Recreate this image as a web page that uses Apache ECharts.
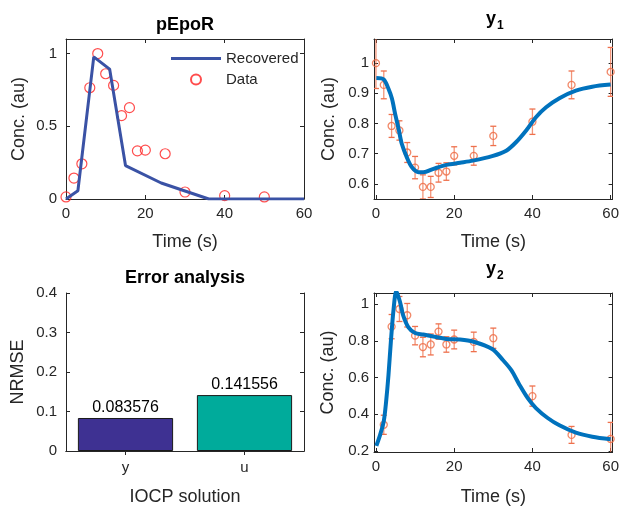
<!DOCTYPE html>
<html>
<head>
<meta charset="utf-8">
<script src="https://cdn.jsdelivr.net/npm/echarts@6.0.0/dist/echarts.min.js"></script>
<style>
  html, body { margin: 0; padding: 0; background: #fff; }
  #main { width: 622px; height: 507px; }
</style>
</head>
<body>
<div id="main"></div>
<script>
// pEpoR panel
var pepoTime = [0, 2, 4, 6, 8, 10, 12, 14, 16, 18, 20, 25, 30, 40, 50];
var pepoData = [0.014, 0.144, 0.242, 0.765, 1.0, 0.861, 0.781, 0.573, 0.628, 0.331, 0.336, 0.311, 0.048, 0.023, 0.014];
var recTime = [0, 3, 7, 11, 15, 24, 36, 60];
var recValue = [0, 0.057, 0.977, 0.893, 0.23, 0.11, 0, 0];

// measurement times for y1 / y2
var dataTime1 = [0, 2, 4, 6, 8, 10, 12, 14, 16, 18, 20, 25, 30, 40, 50, 60];
var y1Data = [1.0, 0.928, 0.792, 0.777, 0.704, 0.654, 0.59, 0.59, 0.637, 0.641, 0.693, 0.693, 0.759, 0.806, 0.928, 0.971];
var y1Err = [0.084, 0.046, 0.038, 0.032, 0.033, 0.037, 0.04, 0.035, 0.031, 0.029, 0.03, 0.031, 0.032, 0.042, 0.046, 0.081];

var dataTime2 = [2, 4, 6, 8, 10, 12, 14, 16, 18, 20, 25, 30, 40, 50, 60];
var y2Data = [0.343, 0.877, 0.973, 0.939, 0.828, 0.766, 0.78, 0.85, 0.78, 0.807, 0.794, 0.814, 0.499, 0.288, 0.266];
var y2Err = [0.052, 0.066, 0.068, 0.064, 0.05, 0.053, 0.057, 0.042, 0.042, 0.051, 0.053, 0.055, 0.055, 0.046, 0.09];

// model curves
var fit1Time = [0.1, 2, 3.2, 4.1, 4.9, 5.8, 6.6, 7.9, 9.2, 10.9, 12.1, 14.7, 18, 21.5, 24.8, 29.7, 33.3, 35.8, 38.4, 40.9, 43.5, 46.9, 51.1, 55.3, 60];
var fit1Value = [0.951, 0.946, 0.915, 0.882, 0.832, 0.782, 0.733, 0.688, 0.655, 0.639, 0.639, 0.65, 0.663, 0.67, 0.677, 0.692, 0.71, 0.738, 0.777, 0.821, 0.854, 0.884, 0.909, 0.922, 0.929];

var fit2Time = [0.1, 1.1, 2, 2.6, 3.2, 3.8, 4.5, 5.2, 6.2, 7, 8.3, 10, 12.1, 14.7, 18, 21.5, 24.8, 29.7, 32.5, 34.6, 36.7, 38.8, 40.9, 43.9, 46.9, 51.1, 55.3, 60];
var fit2Value = [0.228, 0.291, 0.363, 0.47, 0.613, 0.792, 0.971, 1.07, 1.007, 0.935, 0.873, 0.842, 0.834, 0.823, 0.81, 0.807, 0.796, 0.755, 0.694, 0.64, 0.56, 0.488, 0.434, 0.38, 0.34, 0.3, 0.278, 0.264];

// error analysis
var errCategories = ['y', 'u'];
var errValues = [0.083576, 0.141556];
var errColors = ['#3E3192', '#00AB9B'];

var timeTicks = [0, 20, 40, 60];
var pepoTicks = [0, 0.5, 1];
var y1Ticks = [0.6, 0.7, 0.8, 0.9, 1];
var y2Ticks = [0.2, 0.4, 0.6, 0.8, 1];
var errTicks = [0, 0.1, 0.2, 0.3, 0.4];

var ink = '#262626';
var font = 'Liberation Sans, Arial, sans-serif';

function zip(a, b) {
    var out = [];
    for (var i = 0; i < a.length; i++) out.push([a[i], b[i]]);
    return out;
}
function errRows(t, v, e) {
    var out = [];
    for (var i = 0; i < t.length; i++) out.push([t[i], v[i] - e[i], v[i] + e[i]]);
    return out;
}

function valueAxis(grid, pos, min, max, ticks, name, gap, margin) {
    var main = (pos == 'bottom' || pos == 'left');
    return {
        type: 'value', gridIndex: grid, position: pos, min: min, max: max,
        name: main ? name : '', nameLocation: 'middle', nameGap: gap,
        nameTextStyle: { fontSize: 18, color: ink, fontFamily: font },
        axisLine: { show: true, onZero: false, lineStyle: { color: ink, width: 1 } },
        axisTick: { show: true, inside: true, length: 4, customValues: ticks, lineStyle: { color: ink } },
        axisLabel: { show: main, customValues: ticks, fontSize: 15, color: ink, fontFamily: font, margin: margin },
        splitLine: { show: false }
    };
}
function catAxis(grid, pos) {
    var main = pos == 'bottom';
    return {
        type: 'category', gridIndex: grid, position: pos, data: errCategories,
        name: main ? 'IOCP solution' : '', nameLocation: 'middle', nameGap: 37,
        nameTextStyle: { fontSize: 18, color: ink, fontFamily: font },
        axisLine: { show: true, lineStyle: { color: ink, width: 1 } },
        axisTick: { show: true, inside: true, length: 4, alignWithLabel: true, lineStyle: { color: ink } },
        axisLabel: { show: main, fontSize: 15, color: ink, fontFamily: font, margin: 9 }
    };
}

function errorBars(xi, yi, rows) {
    return {
        type: 'custom', xAxisIndex: xi, yAxisIndex: yi, clip: true, silent: true,
        data: rows,
        renderItem: function (params, api) {
            var lo = api.coord([api.value(0), api.value(1)]);
            var hi = api.coord([api.value(0), api.value(2)]);
            var w = 3;
            var bar = { stroke: 'rgba(238,112,76,0.75)', lineWidth: 1.3 };
            var cap = { stroke: '#EE704C', lineWidth: 1.3 };
            return {
                type: 'group',
                children: [
                    { type: 'line', shape: { x1: lo[0], y1: lo[1], x2: hi[0], y2: hi[1] }, style: bar },
                    { type: 'line', shape: { x1: lo[0] - w, y1: lo[1], x2: lo[0] + w, y2: lo[1] }, style: cap },
                    { type: 'line', shape: { x1: hi[0] - w, y1: hi[1], x2: hi[0] + w, y2: hi[1] }, style: cap }
                ]
            };
        }
    };
}

function titleAt(x, y, text, size, align) {
    return {
        text: text, left: x, top: y, textAlign: align || 'center', padding: 0,
        textStyle: { fontSize: size || 18, fontWeight: 'bold', color: '#000', fontFamily: font }
    };
}

var chart = echarts.init(document.getElementById('main'));
var barData = [];
for (var i = 0; i < errValues.length; i++) {
    barData.push({ value: errValues[i], itemStyle: { color: errColors[i] } });
}

var option = {
    animation: false,
    backgroundColor: '#fff',
    textStyle: { fontFamily: font },
    title: [
        titleAt(185, 16, 'pEpoR'),
        titleAt(486, 10, 'y', 18, 'left'),
        titleAt(497, 20, '1', 12, 'left'),
        titleAt(185, 269, 'Error analysis'),
        titleAt(486, 260, 'y', 18, 'left'),
        titleAt(497, 270, '2', 12, 'left')
    ],
    legend: {
        left: 166, top: 46, orient: 'vertical',
        itemWidth: 50, itemHeight: 10, itemGap: 6,
        textStyle: { fontSize: 15, color: ink, fontFamily: font },
        data: [
            { name: 'Recovered', icon: 'path://M0 0H50V3H0Z' },
            { name: 'Data' }
        ]
    },
    grid: [
        { left: 66, top: 39, width: 238, height: 160 },
        { left: 374, top: 39, width: 240, height: 160 },
        { left: 66, top: 293, width: 238, height: 160 },
        { left: 374, top: 293, width: 240, height: 160 }
    ],
    xAxis: [
        valueAxis(0, 'bottom', 0, 60, timeTicks, 'Time (s)', 34, 7),
        valueAxis(0, 'top', 0, 60, timeTicks),
        valueAxis(1, 'bottom', -0.5, 60.5, timeTicks, 'Time (s)', 34, 7),
        valueAxis(1, 'top', -0.5, 60.5, timeTicks),
        catAxis(2, 'bottom'),
        catAxis(2, 'top'),
        valueAxis(3, 'bottom', -0.5, 60.5, timeTicks, 'Time (s)', 36, 7),
        valueAxis(3, 'top', -0.5, 60.5, timeTicks)
    ],
    yAxis: [
        valueAxis(0, 'left', 0, 1.1, pepoTicks, 'Conc. (au)', 38, 9),
        valueAxis(0, 'right', 0, 1.1, pepoTicks),
        valueAxis(1, 'left', 0.55, 1.08, y1Ticks, 'Conc. (au)', 36, 5),
        valueAxis(1, 'right', 0.55, 1.08, y1Ticks),
        valueAxis(2, 'left', 0, 0.4, errTicks, 'NRMSE', 39, 9),
        valueAxis(2, 'right', 0, 0.4, errTicks),
        valueAxis(3, 'left', 0.195, 1.06, y2Ticks, 'Conc. (au)', 37, 5),
        valueAxis(3, 'right', 0.195, 1.06, y2Ticks)
    ],
    series: [
        {
            name: 'Recovered', type: 'line', xAxisIndex: 0, yAxisIndex: 0,
            data: zip(recTime, recValue), symbol: 'none',
            lineStyle: { color: '#3A52A5', width: 3 }, itemStyle: { color: '#3A52A5' }
        },
        {
            name: 'Data', type: 'scatter', xAxisIndex: 0, yAxisIndex: 0,
            data: zip(pepoTime, pepoData), symbol: 'circle', symbolSize: 10,
            itemStyle: { color: 'rgba(0,0,0,0)', borderColor: '#FF2020', borderWidth: 1.2 }
        },
        {
            type: 'line', xAxisIndex: 2, yAxisIndex: 2, data: zip(fit1Time, fit1Value),
            smooth: 0.3, symbol: 'none',
            lineStyle: { color: '#0072BD', width: 4 }
        },
        errorBars(2, 2, errRows(dataTime1, y1Data, y1Err)),
        {
            type: 'scatter', xAxisIndex: 2, yAxisIndex: 2, data: zip(dataTime1, y1Data),
            symbol: 'circle', symbolSize: 7,
            itemStyle: { color: 'rgba(0,0,0,0)', borderColor: '#EE6A42', borderWidth: 1.3 }
        },
        {
            type: 'bar', xAxisIndex: 4, yAxisIndex: 4, data: barData, barWidth: '80%',
            itemStyle: { borderColor: '#1a1a1a', borderWidth: 1 },
            label: { show: true, position: 'top', distance: 2, fontSize: 16, color: '#000', fontFamily: font }
        },
        {
            type: 'line', xAxisIndex: 6, yAxisIndex: 6, data: zip(fit2Time, fit2Value),
            smooth: 0.3, symbol: 'none',
            lineStyle: { color: '#0072BD', width: 4 }
        },
        errorBars(6, 6, errRows(dataTime2, y2Data, y2Err)),
        {
            type: 'scatter', xAxisIndex: 6, yAxisIndex: 6, data: zip(dataTime2, y2Data),
            symbol: 'circle', symbolSize: 7,
            itemStyle: { color: 'rgba(0,0,0,0)', borderColor: '#EE6A42', borderWidth: 1.3 }
        }
    ]
};
chart.setOption(option);
</script>
</body>
</html>
